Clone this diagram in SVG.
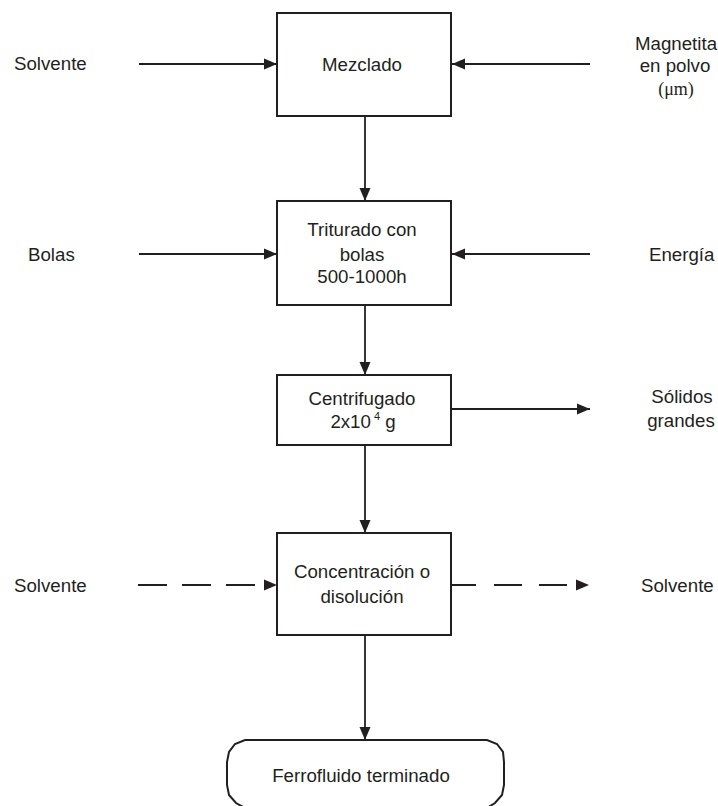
<svg xmlns="http://www.w3.org/2000/svg" width="718" height="806" viewBox="0 0 718 806">
<style>
  .box { fill: #ffffff; stroke: #231f20; stroke-width: 2; }
  .ln { fill: none; stroke: #231f20; stroke-width: 1.8; }
  .t { font-family: "Liberation Sans", Arial, Helvetica, sans-serif; font-size: 18.7px; fill: #231f20; }
  .s { font-family: "Liberation Serif", "Times New Roman", serif; font-size: 18px; fill: #231f20; }
  .mid { text-anchor: middle; }
</style>
<defs>
  <marker id="ah" markerUnits="userSpaceOnUse" markerWidth="14" markerHeight="12" refX="13" refY="6" orient="auto">
    <path d="M0,0.5 L13,6 L0,11.5 Z" fill="#231f20"/>
  </marker>
</defs>
<rect width="718" height="806" fill="#ffffff"/>

<g id="connectors">
  <path class="ln" d="M139,64 L277,64" marker-end="url(#ah)"/>
  <path class="ln" d="M590,64 L452,64" marker-end="url(#ah)"/>
  <path class="ln" d="M365,116 L365,201" marker-end="url(#ah)"/>
  <path class="ln" d="M139,254 L277,254" marker-end="url(#ah)"/>
  <path class="ln" d="M590,254 L452,254" marker-end="url(#ah)"/>
  <path class="ln" d="M365,305 L365,375" marker-end="url(#ah)"/>
  <path class="ln" d="M451,409 L590,409" marker-end="url(#ah)"/>
  <path class="ln" d="M365,445 L365,533" marker-end="url(#ah)"/>
  <path class="ln" d="M138,585 L277,585" stroke-dasharray="29 15 29 15 29 30" marker-end="url(#ah)"/>
  <path class="ln" d="M452,585 L589,585" stroke-dasharray="24 18 28 17 28 100" marker-end="url(#ah)"/>
  <path class="ln" d="M365,635 L365,740" marker-end="url(#ah)"/>
</g>

<g id="mezclado">
  <rect class="box" x="277" y="13" width="174" height="103"/>
  <text class="t mid" x="362" y="71">Mezclado</text>
</g>
<g id="triturado">
  <rect class="box" x="277" y="201" width="174" height="104"/>
  <text class="t mid" x="362" y="236">Triturado con</text>
  <text class="t mid" x="362" y="261">bolas</text>
  <text class="t mid" x="362" y="283">500-1000h</text>
</g>
<g id="centrifugado">
  <rect class="box" x="277" y="375" width="174" height="70"/>
  <text class="t mid" x="362" y="405">Centrifugado</text>
  <text class="t mid" x="363" y="428">2x10<tspan dx="3" dy="-8" font-size="11">4</tspan><tspan dy="8"> g</tspan></text>
</g>
<g id="concentracion">
  <rect class="box" x="277" y="533" width="174" height="102"/>
  <text class="t mid" x="362" y="578">Concentración o</text>
  <text class="t mid" x="362" y="603">disolución</text>
</g>
<g id="ferrofluido">
  <path class="box" d="M245,740 L487,740 L497,744 L503,752 L504,762 L504,785 L502,795 L495,803 L487,808 L245,808 L236,803 L229,795 L227,785 L227,762 L229,752 L235,744 Z"/>
  <text class="t mid" x="361" y="782">Ferrofluido terminado</text>
</g>

<g id="solvente-in-1"><text class="t" x="14" y="70">Solvente</text></g>
<g id="magnetita">
  <text class="t mid" x="676" y="50">Magnetita</text>
  <text class="t mid" x="675" y="72">en polvo</text>
  <text class="s mid" x="676" y="95">(μm)</text>
</g>
<g id="bolas"><text class="t" x="28" y="261">Bolas</text></g>
<g id="energia"><text class="t" x="649" y="261">Energía</text></g>
<g id="solidos">
  <text class="t mid" x="682" y="403">Sólidos</text>
  <text class="t mid" x="681" y="427">grandes</text>
</g>
<g id="solvente-in-2"><text class="t" x="14" y="592">Solvente</text></g>
<g id="solvente-out"><text class="t" x="641" y="592">Solvente</text></g>
</svg>
